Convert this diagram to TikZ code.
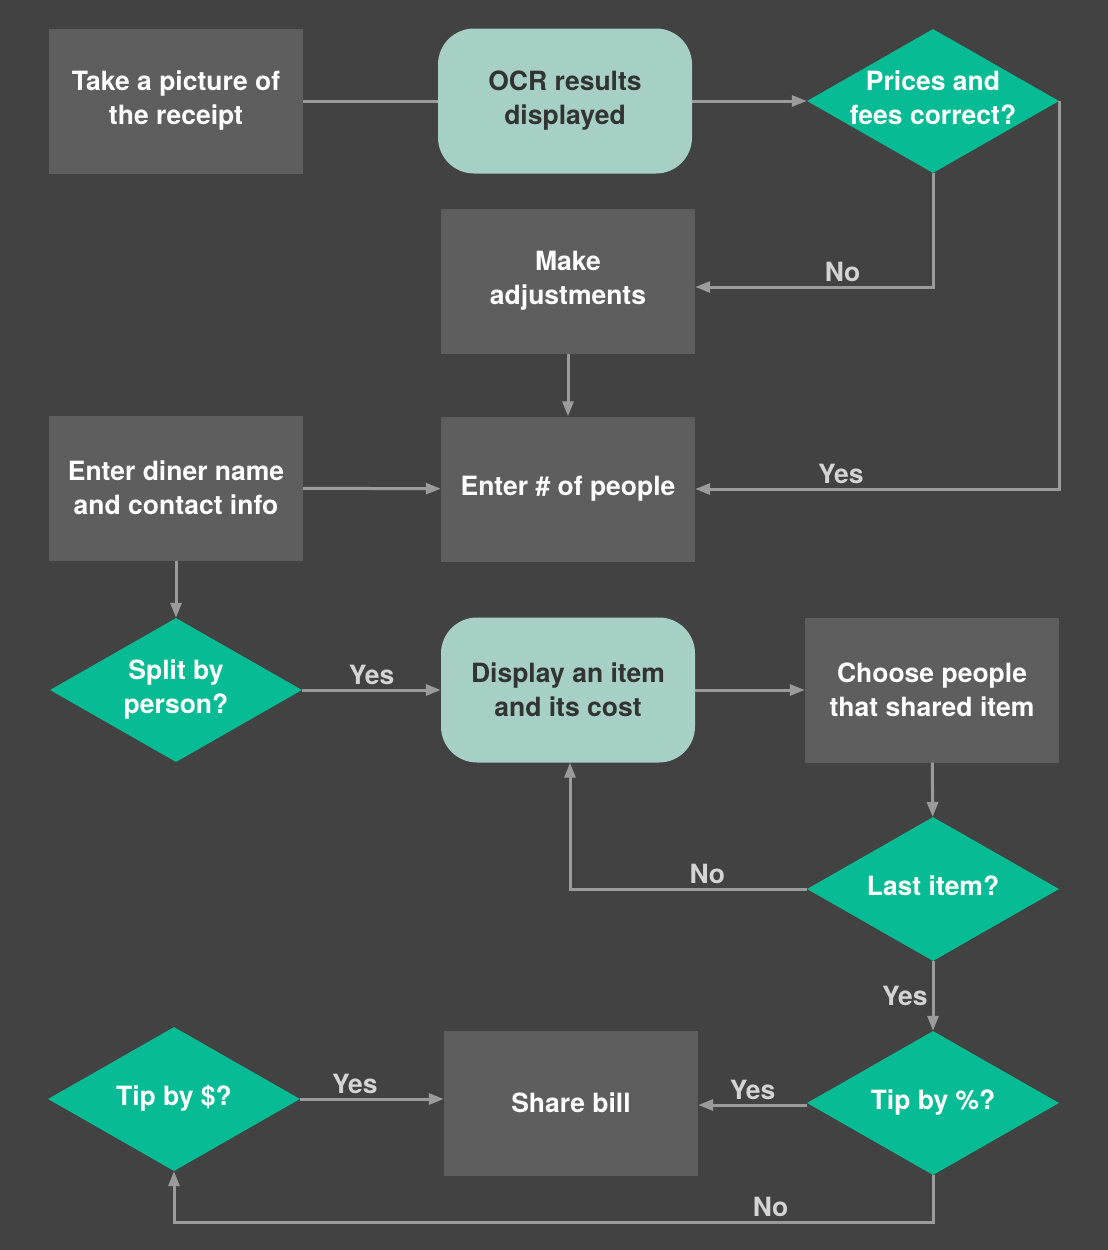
\documentclass[tikz,border=0pt]{standalone}
\usepackage{fontspec}
\setmainfont{TeX Gyre Heros}
\usetikzlibrary{arrows.meta, shapes.geometric}
\definecolor{fond}{HTML}{424242}
\definecolor{gris}{HTML}{5E5E5E}
\definecolor{menthe}{HTML}{A6D0C6}
\definecolor{vert}{HTML}{07BC94}
\definecolor{lien}{HTML}{9B9B9B}
\definecolor{etiq}{HTML}{D4D4D4}
\definecolor{sombre}{HTML}{333333}
\tikzstyle{etape} = [rectangle,fill=gris,text=white,minimum width=254pt,minimum height=145pt,align=center,inner sep=0pt]
\tikzstyle{ecran} = [rectangle,rounded corners=36pt,fill=menthe,text=sombre,minimum width=254pt,minimum height=145pt,align=center,inner sep=0pt]
\tikzstyle{choix} = [diamond,aspect=1.75,fill=vert,text=white,minimum width=252pt,minimum height=144pt,inner sep=0pt]
\tikzstyle{fleche} = [-{Triangle[length=15pt,width=11pt]},line width=3pt,draw=lien]
\tikzstyle{trait} = [-,line width=3pt,draw=lien]
\tikzstyle{reponse} = [text=etiq,inner sep=4pt]
% texte des losanges, sans largeur pour ne pas agrandir la forme
\newcommand{\dedans}[1]{\makebox[0pt]{\begin{tabular}{@{}c@{}}#1\end{tabular}}}

\begin{document}
\begin{tikzpicture}[x=1pt,y=-1pt,font=\fontsize{26.5}{34}\selectfont\bfseries]

	\fill[fond] (0,0) rectangle (1108,1250);
	\useasboundingbox (0,0) rectangle (1108,1250);

	%% Premiere ligne
	\node[etape] (photo) at (176,101) {Take a picture of\\the receipt};
	\node[ecran] (ocr) at (565,101) {OCR results\\displayed};
	\node[choix] (prix) at (933,101) {\dedans{Prices and\\fees correct?}};

	\node[etape] (ajust) at (568,281) {Make\\adjustments};

	\node[etape] (convive) at (176,488) {Enter diner name\\and contact info};
	\node[etape] (nombre) at (568,489) {Enter \# of people};

	%% Partage par personne
	\node[choix] (parpers) at (176,690) {\dedans{Split by\\person?}};
	\node[ecran] (article) at (568,690) {Display an item\\and its cost};
	\node[etape] (partage) at (932,690) {Choose people\\that shared item};
	\node[choix] (dernier) at (933,889) {\dedans{Last item?}};

	%% Pourboire
	\node[choix] (pourcent) at (933,1103) {\dedans{Tip by \%?}};
	\node[etape] (facture) at (571,1103) {Share bill};
	\node[choix] (dollar) at (174,1099) {\dedans{Tip by \$?}};

	%% Fleches
	\draw[trait] (photo) -- (ocr);
	\draw[fleche] (ocr) -- (prix);
	\draw[fleche] (prix.south) |- ([yshift=-6pt]ajust.east) node[reponse,above,pos=0.69] {No};
	\draw[fleche] (prix.east) |- (nombre.east) node[reponse,above,pos=0.8] {Yes};
	\draw[fleche] (ajust) -- (nombre);
	\draw[fleche] (convive) -- (nombre);
	\draw[fleche] (convive) -- (parpers);

	\draw[fleche] (parpers) -- node[reponse,above] {Yes} (article);
	\draw[fleche] (article) -- (partage);
	\draw[fleche] (partage) -- (dernier);
	\draw[fleche] (dernier.west) -| node[reponse,above,pos=0.21] {No} ([xshift=2pt]article.south);
	\draw[fleche] (dernier) -- node[reponse,left] {Yes} (pourcent);

	\draw[fleche] ([yshift=-2pt]pourcent.west) -- node[reponse,above] {Yes} ([yshift=-2pt]facture.east);
	\draw[fleche] (pourcent.south) -- ++(0,47) -| node[reponse,above,pos=0.107] {No} (dollar.south);
	\draw[fleche] (dollar.east) -- node[reponse,above,pos=0.38] {Yes} (dollar.east -| facture.west);

\end{tikzpicture}
\end{document}
